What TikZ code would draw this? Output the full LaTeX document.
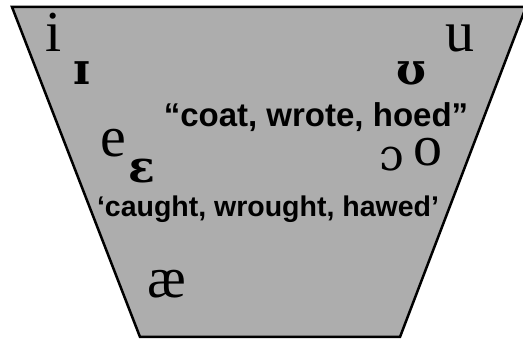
\documentclass[tikz,border=0pt]{standalone}
\usepackage{fontspec}
\setmainfont{Liberation Serif}
\newfontfamily\ipaboldB{DejaVu Serif Bold}
\newfontfamily\ipareg{DejaVu Serif}
\newfontfamily\sansbold{Liberation Sans Bold}
\definecolor{chartgray}{RGB}{173,173,173}
\tikzset{
  vowel/.style={anchor=base, inner sep=0pt, font=\fontsize{58}{58}\selectfont},
  ipab/.style={anchor=base, inner sep=0pt, font=\ipaboldB\fontsize{44}{44}\selectfont},
  ipar/.style={anchor=base, inner sep=0pt, font=\ipareg\fontsize{44}{44}\selectfont},
  wordlabel/.style={anchor=base, inner sep=0pt, font=\sansbold\fontsize{#1}{#1}\selectfont},
}
\begin{document}
\begin{tikzpicture}[x=1pt,y=-1pt]
\useasboundingbox (0,0) rectangle (523,339);
\clip (0,0) rectangle (523,339);
\draw[line width=2.5pt, fill=chartgray, line join=miter] (12,7) -- (526,7) -- (400,337) -- (140,337) -- cycle;
\node[vowel] (i) at (54,52) {i};
\node[ipab] (ic) at (82,85) {ɪ};
\node[vowel] (u) at (460,52) {u};
\node[ipab] (hs) at (411,85) {ʊ};
\node[wordlabel=33] (coat) at (316,127) {“coat, wrote, hoed”};
\node[vowel] (e) at (113,157) {e};
\node[ipab] (eps) at (142,183) {ɛ};
\node[ipar] (oo) at (392,171) {ɔ};
\node[vowel] (o) at (428,166) {o};
\node[wordlabel=28.5] (caught) at (268,217) {‘caught, wrought, hawed’};
\node[vowel] (ae) at (167,298) {æ};
\end{tikzpicture}
\end{document}
